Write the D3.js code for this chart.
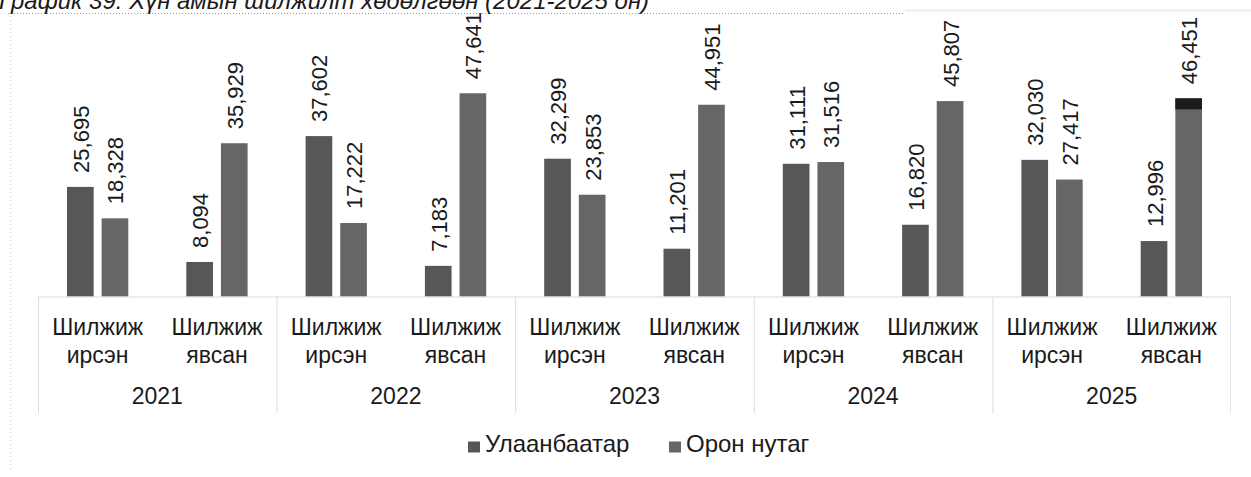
<!DOCTYPE html>
<html>
<head>
<meta charset="utf-8">
<script src="https://cdn.jsdelivr.net/npm/d3@7"></script>
<style>
  html, body { margin: 0; padding: 0; background: #fff; }
  svg { display: block; font-family: "Liberation Sans", Arial, sans-serif; }
</style>
</head>
<body>
<svg id="chart" width="1251" height="477"></svg>
<script>
// Migration flows, 2021-2025
const years = ["2021", "2022", "2023", "2024", "2025"];
const flows = ["Шилжиж ирсэн", "Шилжиж явсан"];
const seriesNames = ["Улаанбаатар", "Орон нутаг"];
// values per year: [ирсэн, явсан]
const ulaanbaatar = [25695, 8094, 37602, 7183, 32299, 11201, 31111, 16820, 32030, 12996];
const oronNutag   = [18328, 35929, 17222, 47641, 23853, 44951, 31516, 45807, 27417, 46451];
const colors = ["#575757", "#666666"];
const titleText = "График 39. Хүн амын шилжилт хөдөлгөөн (2021-2025 он)";

const svg = d3.select("#chart");
const left = 38, right = 1231, base = 296.5;

const categories = [];
years.forEach(y => flows.forEach(f => categories.push(y + "|" + f)));

const x0 = d3.scaleBand().domain(categories).range([left, right]).paddingInner(0).paddingOuter(0);
const x1 = d3.scaleBand().domain(seriesNames).range([29, x0.bandwidth() - 29]).paddingInner(0.23);
const y = d3.scaleLinear().domain([0, 50000]).range([base, 83.2]);

// frame lines
svg.append("line").attr("x1", 8).attr("x2", 905).attr("y1", 13.5).attr("y2", 13.5)
  .attr("stroke", "#9a9a9a").attr("stroke-dasharray", "1,2");
svg.append("line").attr("x1", 905).attr("x2", 1251).attr("y1", 10.5).attr("y2", 10.5)
  .attr("stroke", "#ececec").attr("stroke-width", 2);
svg.append("line").attr("x1", 10.5).attr("x2", 10.5).attr("y1", 16).attr("y2", 470)
  .attr("stroke", "#d0d0d0").attr("stroke-dasharray", "1,3");

// title (top edge of the frame)
svg.append("text").attr("x", -1).attr("y", 9)
  .attr("font-size", 24).attr("font-style", "italic").attr("fill", "#1a1a1a")
  .text(titleText);

// bars
const rows = categories.map((c, i) => ({
  cat: c,
  vals: [
    { s: seriesNames[0], v: ulaanbaatar[i], c: colors[0] },
    { s: seriesNames[1], v: oronNutag[i], c: colors[1] }
  ]
}));

const g = svg.append("g");
const grp = g.selectAll("g.cat").data(rows).join("g")
  .attr("transform", d => `translate(${x0(d.cat)},0)`);

grp.selectAll("rect").data(d => d.vals).join("rect")
  .attr("x", d => x1(d.s))
  .attr("width", x1.bandwidth())
  .attr("y", d => y(d.v))
  .attr("height", d => base - y(d.v))
  .attr("fill", d => d.c);

// dark cap on the last bar
const lastCat = categories[categories.length - 1];
svg.append("rect")
  .attr("x", x0(lastCat) + x1(seriesNames[1]))
  .attr("width", x1.bandwidth())
  .attr("y", y(oronNutag[oronNutag.length - 1]))
  .attr("height", 11)
  .attr("fill", "#1c1c1c");

// value labels, rotated
grp.selectAll("text.val").data(d => d.vals).join("text")
  .attr("class", "val")
  .attr("transform", d => `translate(${x1(d.s) + x1.bandwidth() / 2 + 1},${y(d.v) - 14}) rotate(-90)`)
  .attr("dominant-baseline", "central")
  .attr("font-size", 22)
  .attr("fill", "#1a1a1a")
  .text(d => d3.format(",")(d.v));

// category axis
svg.append("line").attr("x1", left).attr("x2", right).attr("y1", base + 0.5).attr("y2", base + 0.5)
  .attr("stroke", "#d9d9d9");
years.forEach((yr, i) => {
  const xs = left + i * 2 * x0.step();
  svg.append("line").attr("x1", xs + 0.5).attr("x2", xs + 0.5).attr("y1", base).attr("y2", 413)
    .attr("stroke", "#dcdcdc");
});
svg.append("line").attr("x1", right - 0.5).attr("x2", right - 0.5).attr("y1", base).attr("y2", 413)
  .attr("stroke", "#e6e6e6");

categories.forEach(c => {
  const [yr, f] = c.split("|");
  const parts = f.split(" ");
  const cx = x0(c) + x0.bandwidth() / 2;
  const t = svg.append("text").attr("x", cx).attr("text-anchor", "middle")
    .attr("font-size", 23).attr("fill", "#1a1a1a");
  t.append("tspan").attr("x", cx).attr("y", 335).text(parts[0]);
  t.append("tspan").attr("x", cx).attr("y", 362.5).text(parts[1]);
});
years.forEach((yr, i) => {
  const cx = left + (i * 2 + 1) * x0.step();
  svg.append("text").attr("x", cx).attr("y", 404).attr("text-anchor", "middle")
    .attr("font-size", 23).attr("fill", "#1a1a1a").text(yr);
});

// legend
const legendX = [468, 669];
seriesNames.forEach((s, i) => {
  svg.append("rect").attr("x", legendX[i]).attr("y", 441.5).attr("width", 12).attr("height", 11)
    .attr("fill", colors[i]);
  svg.append("text").attr("x", legendX[i] + 17).attr("y", 452)
    .attr("font-size", 24).attr("fill", "#1a1a1a").text(s);
});
</script>
</body>
</html>
